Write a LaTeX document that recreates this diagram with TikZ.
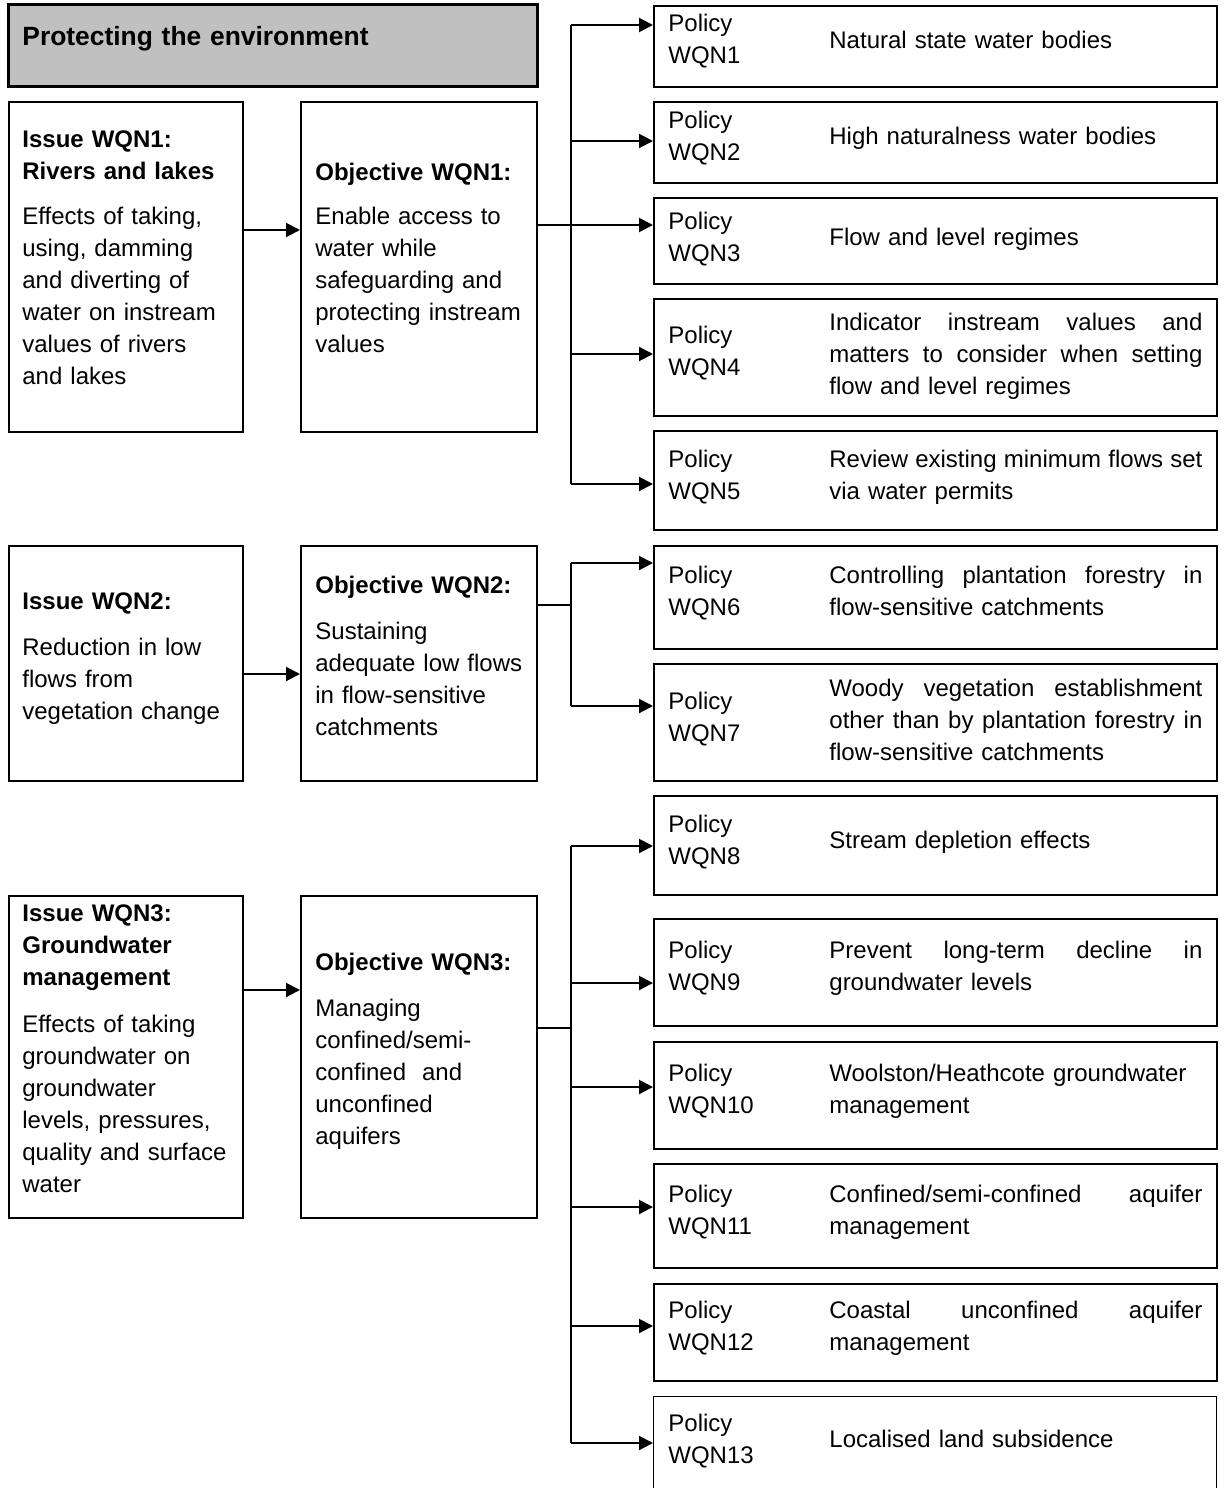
\documentclass[tikz,border=0pt]{standalone}
\usepackage{fontspec}
\setmainfont{Liberation Sans}
\usetikzlibrary{arrows.meta}
\definecolor{hdrgray}{RGB}{192,192,192}
\begin{document}
\begin{tikzpicture}[x=0.5pt,y=-0.5pt,
  box/.style={draw, line width=1.2pt, anchor=north west, inner sep=0pt},
  lbox/.style={box, minimum width=117pt},
  obox/.style={box, minimum width=118pt},
  pbox/.style={box, minimum width=281.5pt},
  txt/.style={anchor=base west, inner sep=0pt, align=left, text width=#1, font=\fontsize{12}{16}\selectfont},
  txt/.default=116pt,
  conn/.style={line width=1pt},
  arr/.style={line width=1pt, -{Triangle[length=7pt,width=7pt]}}
]
\useasboundingbox (0,0) rectangle (1223,1488);
\newcommand{\jl}[1]{\leavevmode\hbox to 186.5pt{#1}}

% header
\node[box, line width=1.3pt, fill=hdrgray, minimum width=264.5pt, minimum height=41pt] (hdr) at (7,3) {};
\node[txt=250pt, font=\fontsize{13.2}{16}\selectfont] (hdrt) at (22,46) {\bfseries Protecting the environment};

% issue / objective boxes
\node[lbox, minimum height=165pt] (i1) at (8,101) {};
\node[obox, minimum height=165pt] (o1) at (300,101) {};
\node[lbox, minimum height=117.5pt] (i2) at (8,545) {};
\node[obox, minimum height=117.5pt] (o2) at (300,545) {};
\node[lbox, minimum height=161pt] (i3) at (8,895) {};
\node[obox, minimum height=161pt] (o3) at (300,895) {};

\node[txt] (i1h) at (22,147) {\bfseries Issue WQN1:\\Rivers and lakes};
\node[txt] (i1b) at (22,224) {Effects of taking,\\using, damming\\and diverting of\\water on instream\\values of rivers\\and lakes};
\node[txt] (o1h) at (315,180) {\bfseries Objective WQN1:};
\node[txt] (o1b) at (315,224) {Enable access to\\water while\\safeguarding and\\protecting instream\\values};

\node[txt] (i2h) at (22,609) {\bfseries Issue WQN2:};
\node[txt] (i2b) at (22,655) {Reduction in low\\flows from\\vegetation change};
\node[txt] (o2h) at (315,593) {\bfseries Objective WQN2:};
\node[txt] (o2b) at (315,639) {Sustaining\\adequate low flows\\in flow-sensitive\\catchments};

\node[txt] (i3h) at (22,921) {\bfseries Issue WQN3:\\Groundwater\\management};
\node[txt] (i3b) at (22,1032) {Effects of taking\\groundwater on\\groundwater\\levels, pressures,\\quality and surface\\water};
\node[txt] (o3h) at (315,970) {\bfseries Objective WQN3:};
\node[txt] (o3b) at (315,1016) {Managing\\confined/semi-\\confined\ \ and\\unconfined\\aquifers};

% policy boxes
\node[pbox, minimum height=40.5pt] (p1) at (653,5) {};
\node[pbox, minimum height=40.5pt] (p2) at (653,101) {};
\node[pbox, minimum height=43pt] (p3) at (653,197) {};
\node[pbox, minimum height=58.5pt] (p4) at (653,298) {};
\node[pbox, minimum height=49.5pt] (p5) at (653,430) {};
\node[pbox, minimum height=51.5pt] (p6) at (653,545) {};
\node[pbox, minimum height=58.5pt] (p7) at (653,663) {};
\node[pbox, minimum height=49.5pt] (p8) at (653,795) {};
\node[pbox, minimum height=53.5pt] (p9) at (653,918) {};
\node[pbox, minimum height=53.5pt] (p10) at (653,1041) {};
\node[pbox, minimum height=52pt] (p11) at (653,1163) {};
\node[pbox, minimum height=48.5pt] (p12) at (653,1283) {};
\node[pbox, line width=0.6pt, minimum height=60pt] (p13) at (653,1396) {};

\node[txt=70pt] (p1a) at (668,32) {Policy\\WQN1};
\node[txt=190pt] (p1b) at (829,48) {Natural state water bodies};
\node[txt=70pt] (p2a) at (668,128) {Policy\\WQN2};
\node[txt=190pt] (p2b) at (829,144) {High naturalness water bodies};
\node[txt=70pt] (p3a) at (668,229) {Policy\\WQN3};
\node[txt=190pt] (p3b) at (829,245) {Flow and level regimes};
\node[txt=70pt] (p4a) at (668,343) {Policy\\WQN4};
\node[txt=190pt] (p4b) at (829,330) {\jl{Indicator\hfill instream\hfill values\hfill and}\\\jl{matters\hfill to\hfill consider\hfill when\hfill setting}\\flow and level regimes};
\node[txt=70pt] (p5a) at (668,467) {Policy\\WQN5};
\node[txt=190pt] (p5b) at (829,467) {\jl{Review\hfill existing\hfill minimum\hfill flows\hfill set}\\via water permits};
\node[txt=70pt] (p6a) at (668,583) {Policy\\WQN6};
\node[txt=190pt] (p6b) at (829,583) {\jl{Controlling\hfill plantation\hfill forestry\hfill in}\\flow-sensitive catchments};
\node[txt=70pt] (p7a) at (668,709) {Policy\\WQN7};
\node[txt=190pt] (p7b) at (829,696) {\jl{Woody\hfill vegetation\hfill establishment}\\\jl{other\hfill than\hfill by\hfill plantation\hfill forestry\hfill in}\\flow-sensitive catchments};
\node[txt=70pt] (p8a) at (668,832) {Policy\\WQN8};
\node[txt=190pt] (p8b) at (829,848) {Stream depletion effects};
\node[txt=70pt] (p9a) at (668,958) {Policy\\WQN9};
\node[txt=190pt] (p9b) at (829,958) {\jl{Prevent\hfill long-term\hfill decline\hfill in}\\groundwater levels};
\node[txt=70pt] (p10a) at (668,1081) {Policy\\WQN10};
\node[txt=190pt] (p10b) at (829,1081) {Woolston/Heathcote groundwater\\management};
\node[txt=70pt] (p11a) at (668,1202) {Policy\\WQN11};
\node[txt=190pt] (p11b) at (829,1202) {\jl{Confined/semi-confined\hfill aquifer}\\management};
\node[txt=70pt] (p12a) at (668,1318) {Policy\\WQN12};
\node[txt=190pt] (p12b) at (829,1318) {\jl{Coastal\hfill unconfined\hfill aquifer}\\management};
\node[txt=70pt] (p13a) at (668,1431) {Policy\\WQN13};
\node[txt=190pt] (p13b) at (829,1447) {Localised land subsidence};

% issue -> objective
\coordinate (r1) at (0,230);
\coordinate (r2) at (0,674);
\coordinate (r3) at (0,990);
\draw[arr] (r1 -| i1.east) -- (r1 -| o1.west);
\draw[arr] (r2 -| i2.east) -- (r2 -| o2.west);
\draw[arr] (r3 -| i3.east) -- (r3 -| o3.west);

% trunk x
\coordinate (tx) at (571,0);

% group 1
\coordinate (g1a) at (0,25);
\coordinate (g1b) at (0,141);
\coordinate (g1c) at (0,225);
\coordinate (g1d) at (0,354);
\coordinate (g1e) at (0,484);
\draw[conn] (g1a -| tx) -- (g1e -| tx);
\draw[arr] (g1a -| tx) -- (g1a -| p1.west);
\draw[arr] (g1b -| tx) -- (g1b -| p2.west);
\draw[arr] (g1c -| o1.east) -- (g1c -| p3.west);
\draw[arr] (g1d -| tx) -- (g1d -| p4.west);
\draw[arr] (g1e -| tx) -- (g1e -| p5.west);

% group 2
\coordinate (g2o) at (0,605);
\coordinate (g2a) at (0,563);
\coordinate (g2b) at (0,706);
\draw[conn] (g2o -| o2.east) -- (g2o -| tx);
\draw[conn] (g2a -| tx) -- (g2b -| tx);
\draw[arr] (g2a -| tx) -- (g2a -| p6.west);
\draw[arr] (g2b -| tx) -- (g2b -| p7.west);

% group 3
\coordinate (g3o) at (0,1028);
\coordinate (g3a) at (0,846);
\coordinate (g3b) at (0,983);
\coordinate (g3c) at (0,1087);
\coordinate (g3d) at (0,1207);
\coordinate (g3e) at (0,1326);
\coordinate (g3f) at (0,1443);
\draw[conn] (g3o -| o3.east) -- (g3o -| tx);
\draw[conn] (g3a -| tx) -- (g3f -| tx);
\draw[arr] (g3a -| tx) -- (g3a -| p8.west);
\draw[arr] (g3b -| tx) -- (g3b -| p9.west);
\draw[arr] (g3c -| tx) -- (g3c -| p10.west);
\draw[arr] (g3d -| tx) -- (g3d -| p11.west);
\draw[arr] (g3e -| tx) -- (g3e -| p12.west);
\draw[arr] (g3f -| tx) -- (g3f -| p13.west);
\end{tikzpicture}
\end{document}
